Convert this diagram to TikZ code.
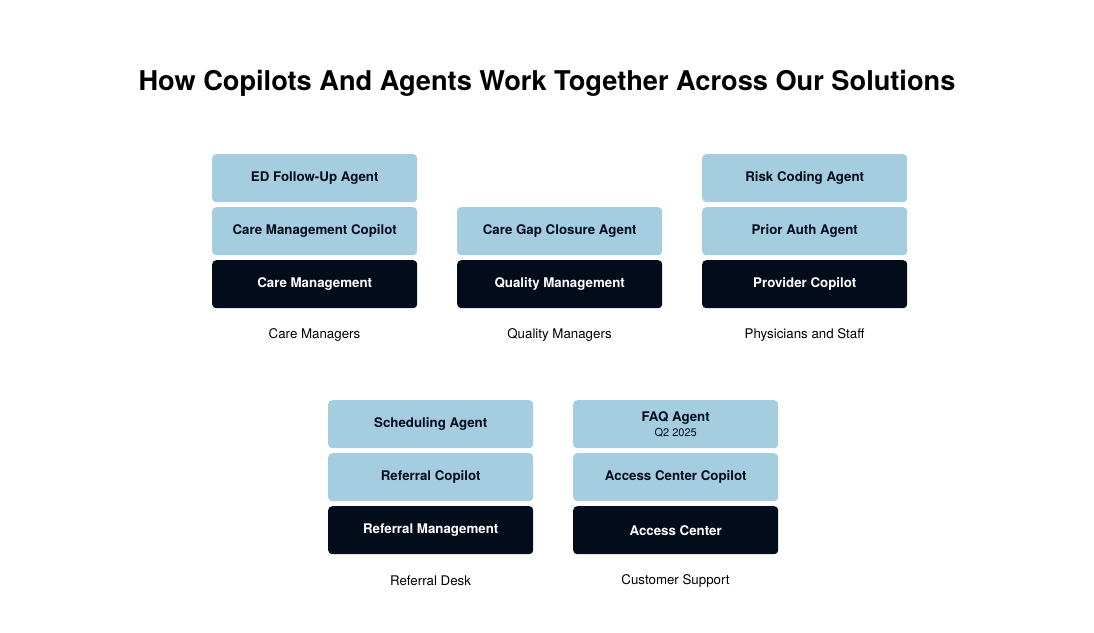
\documentclass[tikz,border=0pt]{standalone}
\usepackage{fontspec}
\setmainfont{TeX Gyre Heros}
\definecolor{lb}{HTML}{A4CDE0}
\definecolor{dk}{HTML}{020C1B}
\begin{document}
\begin{tikzpicture}[x=1pt,y=-1pt,
 bx/.style={rounded corners=4pt,minimum width=205pt,minimum height=48pt,inner sep=0pt,font=\fontsize{13.3}{15}\selectfont\bfseries,anchor=north west},
 lt/.style={bx,fill=lb,text=dk},
 dkb/.style={bx,fill=dk,text=white},
 lab/.style={font=\fontsize{13.3}{15}\selectfont,text=black}]
\useasboundingbox (0,0) rectangle (1094,632);
\node[font=\fontsize{27.2}{30}\selectfont\bfseries] (title) at (547,83) {How Copilots And Agents Work Together Across Our Solutions};
% column 1
\node[lt] (a1) at (212,154) {ED Follow-Up Agent};
\node[lt] (a2) at (212,207) {Care Management Copilot};
\node[dkb] (a3) at (212,260) {Care Management};
\node[lab] (al) at (314.5,335) {Care Managers};
% column 2
\node[lt] (b2) at (457,207) {Care Gap Closure Agent};
\node[dkb] (b3) at (457,260) {Quality Management};
\node[lab] (bl) at (559.5,335) {Quality Managers};
% column 3
\node[lt] (c1) at (702,154) {Risk Coding Agent};
\node[lt] (c2) at (702,207) {Prior Auth Agent};
\node[dkb] (c3) at (702,260) {Provider Copilot};
\node[lab] (cl) at (804.5,335) {Physicians and Staff};
% bottom left
\node[lt] (d1) at (328,400) {Scheduling Agent};
\node[lt] (d2) at (328,453) {Referral Copilot};
\node[dkb] (d3) at (328,506) {Referral Management};
\node[lab] (dl) at (430.5,581) {Referral Desk};
% bottom right
\node[lt,align=center] (e1) at (573,400) {FAQ Agent\\[0pt]{\fontsize{11}{13}\selectfont\mdseries Q2 2025}};
\node[lt] (e2) at (573,453) {Access Center Copilot};
\node[dkb] (e3) at (573,506) {Access Center};
\node[lab] (el) at (675.5,581) {Customer Support};
\end{tikzpicture}
\end{document}
